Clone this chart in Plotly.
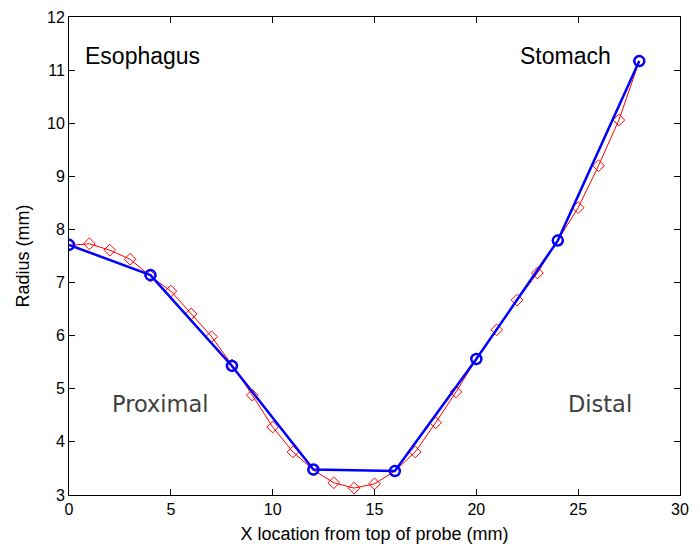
import plotly.graph_objects as go

x_fine = list(range(0, 29))
r_fine = [7.70, 7.73, 7.61, 7.44, 7.12, 6.84, 6.41, 5.98, 5.45, 4.88, 4.28, 3.81, 3.47,
          3.23, 3.13, 3.21, 3.45, 3.81, 4.36, 4.94, 5.56, 6.11, 6.67, 7.18, 7.80, 8.41,
          9.20, 10.06, 11.17]
x_coarse = [0, 4, 8, 12, 16, 20, 24, 28]
r_coarse = [7.71, 7.14, 5.43, 3.48, 3.45, 5.56, 7.79, 11.17]

x_ticks = [0, 5, 10, 15, 20, 25, 30]
y_ticks = [3, 4, 5, 6, 7, 8, 9, 10, 11, 12]

fig = go.Figure()
fig.add_trace(go.Scatter(x=x_fine, y=r_fine, mode="lines+markers",
                         line=dict(color="red", width=1),
                         marker=dict(symbol="diamond-open", size=9, color="red", line=dict(width=1)),
                         showlegend=False))
fig.add_trace(go.Scatter(x=x_coarse, y=r_coarse, mode="lines+markers",
                         line=dict(color="blue", width=2.5),
                         marker=dict(symbol="circle-open", size=10, color="blue", line=dict(width=2.5)),
                         showlegend=False))

font = "Liberation Sans, Arial, sans-serif"
fig.add_annotation(x=3.63, y=11.27, text="Esophagus", showarrow=False,
                   font=dict(family=font, size=23, color="black"))
fig.add_annotation(x=24.4, y=11.27, text="Stomach", showarrow=False,
                   font=dict(family=font, size=23, color="black"))
fig.add_annotation(x=4.47, y=4.72, text="Proximal", showarrow=False,
                   font=dict(family="DejaVu Sans, sans-serif", size=22.5, color="#404040"))
fig.add_annotation(x=26.07, y=4.71, text="Distal", showarrow=False,
                   font=dict(family="DejaVu Sans, sans-serif", size=22.5, color="#404040"))

axis_common = dict(showline=True, linecolor="black", linewidth=1, mirror="ticks",
                   ticks="inside", ticklen=6, tickcolor="black", showgrid=False,
                   zeroline=False, automargin=False,
                   tickfont=dict(family=font, size=16, color="black"))
fig.update_xaxes(range=[0, 30], tickvals=x_ticks,
                 title=dict(text="X location from top of probe (mm)", standoff=10,
                            font=dict(family=font, size=18, color="black")),
                 **axis_common)
fig.update_yaxes(range=[3, 12], tickvals=y_ticks,
                 title=dict(text="Radius (mm)", standoff=12,
                            font=dict(family=font, size=18, color="black")),
                 **axis_common)
# the page body adds an 8px offset, so the figure is sized and margined to compensate
fig.update_layout(width=692, height=539, margin=dict(l=61, r=20, t=9, b=52),
                  plot_bgcolor="white", paper_bgcolor="white")
fig.write_html("out.html")
